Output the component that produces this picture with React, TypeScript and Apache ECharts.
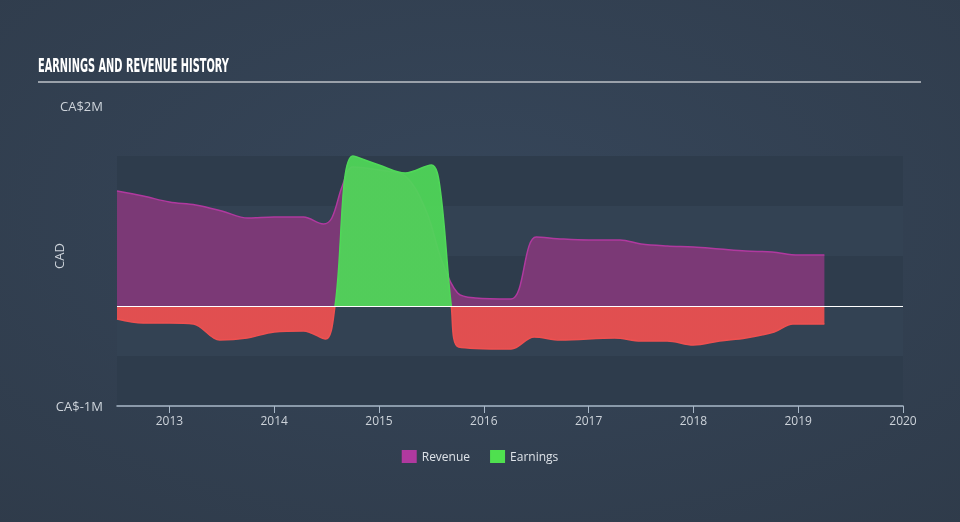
import React, { useEffect, useRef } from "react";
import * as echarts from "echarts";

// Revenue (CA$ millions)
const revenueDates = [2012.5, 2012.75, 2013.0, 2013.25, 2013.5, 2013.75, 2014.0, 2014.28, 2014.47, 2014.55, 2014.65, 2014.75, 2015.0, 2015.25, 2015.45, 2015.6, 2015.75, 2015.92, 2016.26, 2016.5, 2016.75, 2017.0, 2017.3, 2017.5, 2017.75, 2018.0, 2018.25, 2018.5, 2018.75, 2019.0, 2019.25];
const revenueValues = [1.15, 1.10, 1.04, 1.01, 0.95, 0.88, 0.89, 0.89, 0.82, 0.88, 1.2, 1.39, 1.36, 1.3, 0.95, 0.45, 0.13, 0.08, 0.07, 0.69, 0.67, 0.66, 0.66, 0.62, 0.6, 0.59, 0.57, 0.55, 0.54, 0.51, 0.51];

// Earnings (CA$ millions)
const earningsDates = [2012.5, 2012.75, 2013.0, 2013.23, 2013.48, 2013.74, 2014.0, 2014.28, 2014.49, 2014.58, 2014.75, 2015.0, 2015.25, 2015.5, 2015.58, 2015.69, 2015.76, 2016.26, 2016.48, 2016.73, 2017.25, 2017.5, 2017.75, 2018.0, 2018.25, 2018.5, 2018.77, 2018.95, 2019.25];
const earningsValues = [-0.13, -0.17, -0.17, -0.18, -0.34, -0.32, -0.26, -0.25, -0.33, 0, 1.5, 1.41, 1.33, 1.41, 1.2, 0, -0.41, -0.43, -0.31, -0.34, -0.32, -0.35, -0.35, -0.39, -0.35, -0.32, -0.26, -0.18, -0.18];

const yearTicks = [2013, 2014, 2015, 2016, 2017, 2018, 2019, 2020];
const yLabelValues = [-1, 2];

const TITLE = "EARNINGS AND REVENUE HISTORY";

export default function App() {
  const ref = useRef<HTMLDivElement>(null);
  useEffect(() => {
    if (!ref.current) return;
    const chart = echarts.init(ref.current, undefined, { renderer: "svg" });
    const labelFont = "'Open Sans', sans-serif";
    chart.setOption({
      animation: false,
      backgroundColor: {
        type: "radial",
        x: 0.5,
        y: 0.4,
        r: 0.8,
        colorStops: [
          { offset: 0, color: "#36465a" },
          { offset: 1, color: "#2f3b4a" },
        ],
      },
      graphic: [
        {
          type: "text",
          left: 38,
          top: 56,
          scaleX: 0.575,
          style: {
            text: TITLE,
            fill: "#ffffff",
            font: "bold 19px 'DejaVu Sans Condensed', sans-serif",
          },
        },
        {
          type: "line",
          shape: { x1: 38, y1: 82, x2: 921, y2: 82 },
          style: { stroke: "#9aa1aa", lineWidth: 2 },
        },
      ],
      legend: {
        bottom: 54,
        left: "center",
        itemWidth: 15,
        itemHeight: 13,
        itemGap: 20,
        textStyle: { color: "#dde2e8", fontSize: 12, fontFamily: labelFont },
        data: [
          { name: "Revenue", icon: "rect", itemStyle: { color: "#b0399f" } },
          { name: "Earnings", icon: "rect", itemStyle: { color: "#4fe04f" } },
        ],
      },
      visualMap: {
        show: false,
        type: "piecewise",
        seriesIndex: 1,
        dimension: 1,
        pieces: [
          { min: -5, max: 0, color: "#ee5050" },
          { gt: 0, max: 5, color: "#4fd858" },
        ],
      },
      grid: { left: 117, right: 57, top: 106, bottom: 116 },
      xAxis: {
        type: "value",
        min: 2012.5,
        max: 2020,
        splitLine: { show: false },
        axisLine: { onZero: false, lineStyle: { color: "#a9b8c8", width: 1.5 } },
        axisTick: { customValues: yearTicks, length: 7, lineStyle: { color: "#a9b8c8" } },
        axisLabel: {
          customValues: yearTicks,
          color: "#cdd3da",
          fontSize: 12,
          fontFamily: labelFont,
          margin: 8,
          formatter: (v: number) => String(v),
        },
      },
      yAxis: {
        type: "value",
        min: -1,
        max: 2,
        interval: 0.5,
        name: "CAD",
        nameLocation: "middle",
        nameGap: 52,
        nameMoveOverlap: false,
        nameTextStyle: { color: "#cdd3da", fontSize: 13, fontFamily: labelFont },
        axisLine: { show: false },
        axisTick: { show: false },
        splitLine: { show: false },
        splitArea: {
          show: true,
          areaStyle: {
            color: ["#2e3c4c", "#334253", "#2e3c4c", "#334253", "#2e3c4c", "rgba(0,0,0,0)"],
          },
        },
        axisLabel: {
          color: "#cdd3da",
          fontSize: 13,
          fontFamily: labelFont,
          margin: 14,
          formatter: (v: number) => (yLabelValues.indexOf(v) >= 0 ? "CA$" + v + "M" : ""),
        },
      },
      series: [
        {
          name: "Revenue",
          type: "line",
          smooth: 0.35,
          symbol: "none",
          data: revenueDates.map((d, i) => [d, revenueValues[i]]),
          lineStyle: { color: "#b0399f", width: 1.5 },
          itemStyle: { color: "#b0399f" },
          areaStyle: { color: "#7b3976", opacity: 1 },
          z: 2,
        },
        {
          name: "Earnings",
          type: "line",
          smooth: 0.35,
          symbol: "none",
          data: earningsDates.map((d, i) => [d, earningsValues[i]]),
          lineStyle: { width: 1.5 },
          itemStyle: { color: "#4fd858" },
          areaStyle: { opacity: 0.93 },
          z: 3,
          markLine: {
            silent: true,
            symbol: "none",
            label: { show: false },
            lineStyle: { color: "#ffffff", width: 1.2, type: "solid" },
            data: [{ yAxis: 0 }],
          },
        },
      ],
    });
    return () => chart.dispose();
  }, []);
  return (
    <div
      ref={ref}
      style={{ position: "fixed", left: 0, top: 0, width: 960, height: 522 }}
    />
  );
}
